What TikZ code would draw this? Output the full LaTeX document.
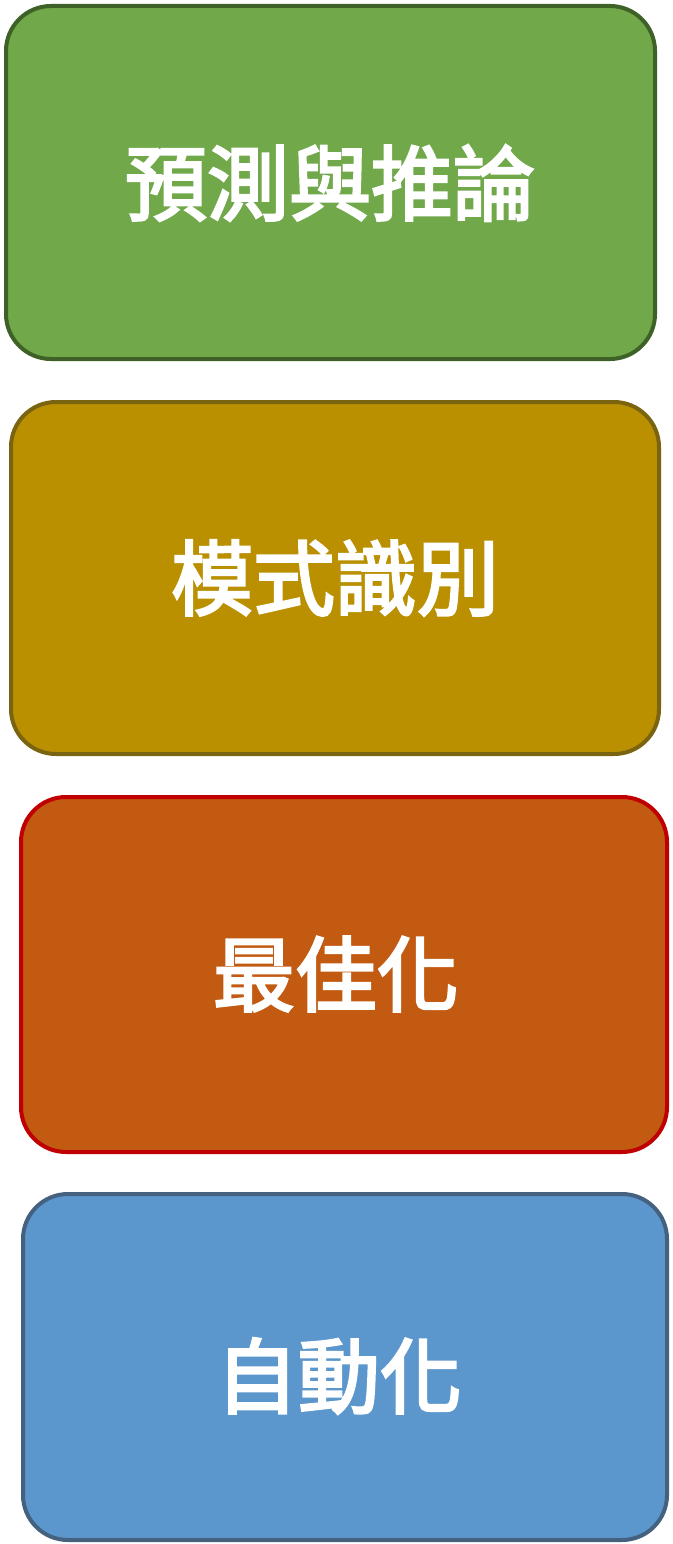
\documentclass[tikz,border=0pt]{standalone}
\usepackage{fontspec}
\newfontfamily\cjk[FakeBold=3]{Noto Sans CJK TC}
\definecolor{gfill}{HTML}{70A84A}
\definecolor{gline}{HTML}{3E6128}
\definecolor{yfill}{HTML}{BA9000}
\definecolor{yline}{HTML}{7A6410}
\definecolor{ofill}{HTML}{C25A12}
\definecolor{oline}{HTML}{C00000}
\definecolor{bfill}{HTML}{5B97CD}
\definecolor{bline}{HTML}{44617F}
\tikzset{
  card/.style={draw, line width=4pt, rounded corners=45pt, rectangle, inner sep=0pt},
  lab/.style={text=white, font=\cjk\fontsize{82}{82}\selectfont, inner sep=0pt, anchor=center}
}
\begin{document}
\begin{tikzpicture}[x=1pt,y=-1pt]
\useasboundingbox (0,0) rectangle (672,1544);
\node[card, draw=gline, fill=gfill, minimum width=649pt, minimum height=353pt] (b1) at (330.5,182.5) {};
\node[lab] (t1) at (330,183) {預測與推論};
\node[card, draw=yline, fill=yfill, minimum width=648pt, minimum height=352pt] (b2) at (335,578) {};
\node[lab] (t2) at (335,578) {模式識別};
\node[card, draw=oline, fill=ofill, minimum width=646pt, minimum height=355pt] (b3) at (344,974.5) {};
\node[lab] (t3) at (336,974) {最佳化};
\node[card, draw=bline, fill=bfill, minimum width=644pt, minimum height=346pt] (b4) at (345,1367) {};
\node[lab] (t4) at (339,1376) {自動化};
\end{tikzpicture}
\end{document}
